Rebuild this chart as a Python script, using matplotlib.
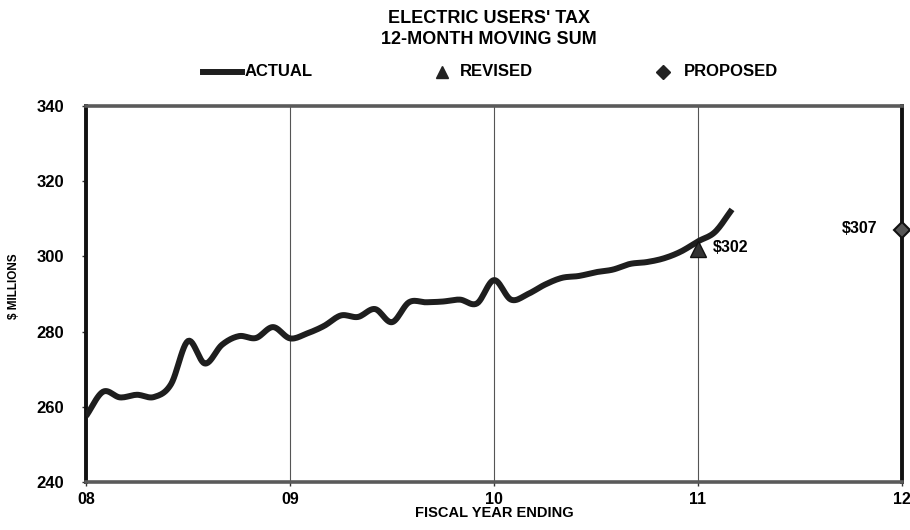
import numpy as np
import matplotlib
matplotlib.use("Agg")
import matplotlib.pyplot as plt
from matplotlib.lines import Line2D

plt.rcParams['font.family'] = ['Liberation Sans', 'DejaVu Sans']
plt.rcParams['font.weight'] = 'bold'

# Monthly 12-month moving sum, $ millions, starting at the close of FY08
actual_values = [257.5, 264.0, 262.5, 263.2, 262.6, 266.0, 277.5, 271.5, 276.5,
                 278.8, 278.3, 281.2, 278.2, 279.5, 281.5, 284.3, 283.9, 286.0,
                 282.5, 287.8, 287.8, 288.0, 288.5, 287.5, 293.7, 288.5, 290.0,
                 292.5, 294.3, 294.8, 295.8, 296.5, 298.0, 298.5, 299.5, 301.3,
                 304.0, 306.5, 312.5]
start_year = 8
revised_year, revised_value = 11, 302
proposed_year, proposed_value = 12, 307
year_ticks = [8, 9, 10, 11, 12]
year_labels = ["08", "09", "10", "11", "12"]
y_ticks = [240, 260, 280, 300, 320, 340]

months_x = start_year + np.arange(len(actual_values)) / 12.0
vals = np.asarray(actual_values, dtype=float)


def smooth_curve(x, y, steps=12):
    """Catmull-Rom curve through the points, like a spreadsheet 'smoothed line'."""
    px = np.concatenate([[2 * x[0] - x[1]], x, [2 * x[-1] - x[-2]]])
    py = np.concatenate([[2 * y[0] - y[1]], y, [2 * y[-1] - y[-2]]])
    xs, ys = [], []
    t = np.linspace(0, 1, steps, endpoint=False)
    for i in range(1, len(px) - 2):
        for arr, out in ((px, xs), (py, ys)):
            p0, p1, p2, p3 = arr[i - 1], arr[i], arr[i + 1], arr[i + 2]
            out.append(0.5 * ((2 * p1) + (-p0 + p2) * t
                              + (2 * p0 - 5 * p1 + 4 * p2 - p3) * t ** 2
                              + (-p0 + 3 * p1 - 3 * p2 + p3) * t ** 3))
    xs.append([x[-1]])
    ys.append([y[-1]])
    return np.concatenate(xs), np.concatenate(ys)


fig = plt.figure(figsize=(9.1, 5.3), dpi=100)
ax = fig.add_axes([86 / 910, 48 / 530, 816 / 910, 376 / 530])

ax.set_xlim(8, 12)
ax.set_ylim(240, 340)

for yr in year_ticks[1:-1]:
    ax.axvline(yr, color='#555555', lw=0.8, zorder=1)

sx, sy = smooth_curve(months_x, vals)
ax.plot(sx, sy, color='#1e1e1e', lw=4.3, solid_capstyle='butt', zorder=3)

ax.plot([revised_year], [revised_value], marker='^', ms=11, color='#333333',
        mec='#111111', ls='none', zorder=4)
ax.text(revised_year + 0.075, revised_value + 0.3, "$302", fontsize=11.5,
        fontweight='bold', va='center', ha='left')

ax.plot([proposed_year], [proposed_value], marker='D', ms=8.5, color='#555555',
        mec='#111111', mew=1.5, ls='none', zorder=5, clip_on=False)
ax.text(proposed_year - 0.12, proposed_value + 0.3, "$307", fontsize=11.5,
        fontweight='bold', va='center', ha='right')

ax.set_xticks(year_ticks)
ax.set_xticklabels(year_labels, fontsize=11.5, fontweight='bold')
ax.set_yticks(y_ticks)
ax.set_yticklabels([str(v) for v in y_ticks], fontsize=12, fontweight='bold')
ax.tick_params(axis='both', length=3, width=1, direction='out',
               color='#333333')
ax.tick_params(axis='y', pad=13)
ax.tick_params(axis='x', pad=4)

for side in ('left', 'right'):
    ax.spines[side].set_linewidth(2.8)
    ax.spines[side].set_color('#111111')
for side in ('top', 'bottom'):
    ax.spines[side].set_linewidth(2.6)
    ax.spines[side].set_color('#5a5a5a')

ax.set_xlabel("FISCAL YEAR ENDING", fontsize=10.5, fontweight='bold')
ax.xaxis.set_label_coords(0.5, -0.065)
ax.set_ylabel("$ MILLIONS", fontsize=8.5, fontweight='bold')
ax.yaxis.set_label_coords(-0.081, 0.52)

fig.text(0.537, 0.966, "ELECTRIC USERS' TAX", ha='center', va='center',
         fontsize=13, fontweight='bold')
fig.text(0.537, 0.925, "12-MONTH MOVING SUM", ha='center', va='center',
         fontsize=13, fontweight='bold')

# Legend row, laid out in figure coordinates
legend_y = 1 - 72 / 530
fig.add_artist(Line2D([203 / 910, 242 / 910], [legend_y, legend_y],
                      color='#1e1e1e', lw=4.3, transform=fig.transFigure))
fig.text(245 / 910, legend_y, "ACTUAL", ha='left', va='center', fontsize=12,
         fontweight='bold')
fig.add_artist(Line2D([442 / 910], [legend_y], marker='^', ms=8.5,
                      color='#222222', ls='none', transform=fig.transFigure))
fig.text(460 / 910, legend_y, "REVISED", ha='left', va='center', fontsize=12,
         fontweight='bold')
fig.add_artist(Line2D([663 / 910], [legend_y], marker='D', ms=7,
                      color='#222222', ls='none', transform=fig.transFigure))
fig.text(684 / 910, legend_y, "PROPOSED", ha='left', va='center', fontsize=12,
         fontweight='bold')

fig.savefig("out.png", dpi=100, facecolor='white')
